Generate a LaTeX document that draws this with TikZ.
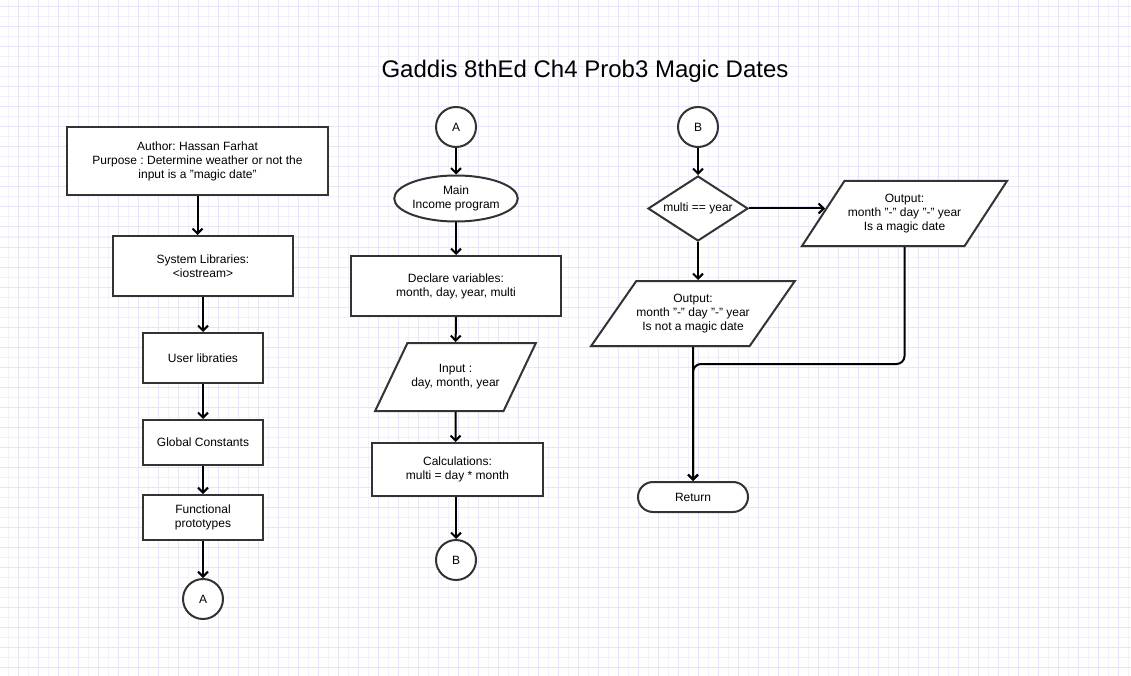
\documentclass[tikz,border=0pt]{standalone}
\usepackage{fontspec}
\setmainfont{Liberation Sans}
\usetikzlibrary{shapes.geometric,arrows.meta}
\definecolor{GridLight}{HTML}{F2F2FC}
\definecolor{GridDark}{HTML}{E6E6F7}
\definecolor{ShapeGray}{HTML}{333333}
\frenchspacing

\begin{document}
\begin{tikzpicture}[x=1pt,y=-1pt,
    font=\fontsize{12}{14}\selectfont,
    >={Straight Barb[length=5pt,width=10pt]},
    flowline/.style={->,line width=2pt,black},
    shapebase/.style={draw=ShapeGray,line width=2pt,fill=white,align=center,inner sep=2pt},
    procbox/.style={shapebase,rectangle},
    connector/.style={shapebase,circle,minimum size=40pt},
    startend/.style={shapebase,ellipse,inner sep=0pt,minimum width=122pt,minimum height=46pt},
    iobox/.style={shapebase,trapezium,trapezium stretches=true,inner xsep=0pt},
    decision/.style={shapebase,diamond,aspect=1.54,inner sep=1pt,minimum width=100pt,minimum height=65pt},
    terminal/.style={shapebase,rectangle,rounded corners=15pt,minimum width=110pt,minimum height=30pt}]
    \useasboundingbox (0,0) rectangle (1131,676);
    \fill[white] (0,0) rectangle (1131,676);
    \foreach \gx in {8,28,...,1128} \draw[GridLight,line width=1pt] (\gx,0) -- (\gx,676);
    \foreach \gy in {17,37,...,676} \draw[GridLight,line width=1pt] (0,\gy) -- (1131,\gy);
    \foreach \gx in {18,38,...,1128} \draw[GridDark,line width=1pt] (\gx,0) -- (\gx,676);
    \foreach \gy in {7,27,...,676} \draw[GridDark,line width=1pt] (0,\gy) -- (1131,\gy);

    \node (title) at (585,71) {\fontsize{24}{28}\selectfont Gaddis 8thEd Ch4 Prob3 Magic Dates};

    \node[procbox,minimum width=261pt,minimum height=68pt] (author) at (197.5,161)
        {Author: Hassan Farhat\\Purpose : Determine weather or not the\\input is a "magic date"};
    \node[procbox,minimum width=180pt,minimum height=60pt] (syslib) at (203,266) {System Libraries:\\<iostream>};
    \node[procbox,minimum width=120pt,minimum height=50pt] (userlib) at (203,358) {User libraties};
    \node[procbox,minimum width=120pt,minimum height=45pt] (globconst) at (203,442.5) {Global Constants};
    \node[procbox,minimum width=120pt,minimum height=45pt] (funcproto) at (203,517.5) {Functional\\prototypes};
    \node[connector] (conAout) at (203,599) {A};

    \node[connector] (conAin) at (456,127) {A};
    \node[startend] (main) at (456,198.5) {Main\\Income program};
    \node[procbox,minimum width=210pt,minimum height=60pt] (declare) at (456,286) {Declare variables:\\month, day, year, multi};
    \node[iobox,trapezium left angle=44,trapezium right angle=136,minimum width=161pt,minimum height=68pt]
        (input) at (455.5,377) {Input :\\day, month, year};
    \node[procbox,minimum width=171pt,minimum height=53pt] (calc) at (457.5,469.5) {Calculations:\\multi = day * month};
    \node[connector] (conBout) at (456,560) {B};

    \node[connector] (conBin) at (698,127) {B};
    \node[decision] (check) at (698,208.5) {multi == year};
    \node[iobox,trapezium left angle=47,trapezium right angle=133,minimum width=205pt,minimum height=65pt]
        (outyes) at (904.5,213.5) {Output:\\month "-" day "-" year\\Is a magic date};
    \node[iobox,trapezium left angle=43.5,trapezium right angle=136.5,minimum width=200pt,minimum height=65pt]
        (outno) at (693,313.5) {Output:\\month "-" day "-" year\\Is not a magic date};
    \node[terminal] (return) at (693,497) {Return};
    \coordinate (merge) at (693,364);

    \draw[flowline] (author.south) -- (author.south |- syslib.north);
    \draw[flowline] (syslib) -- (userlib);
    \draw[flowline] (userlib) -- (globconst);
    \draw[flowline] (globconst) -- (funcproto);
    \draw[flowline] (funcproto) -- (conAout);

    \draw[flowline] (conAin) -- (main);
    \draw[flowline] (main) -- (declare);
    \draw[flowline] (declare) -- (input);
    \draw[flowline] (input) -- (calc.north -| input.south);
    \draw[flowline] (calc.south -| conBout.north) -- (conBout);

    \draw[flowline] (conBin) -- (check);
    \draw[flowline,shorten >=-3pt] (check.east) -- (outyes.west |- check.east);
    \draw[flowline] (check.south) -- (check.south |- outno.north);
    \draw[flowline] (outno.south) -- (return.north);
    \draw[flowline,rounded corners=8pt] (outyes.south) |- (merge) -- (return.north);
\end{tikzpicture}
\end{document}
